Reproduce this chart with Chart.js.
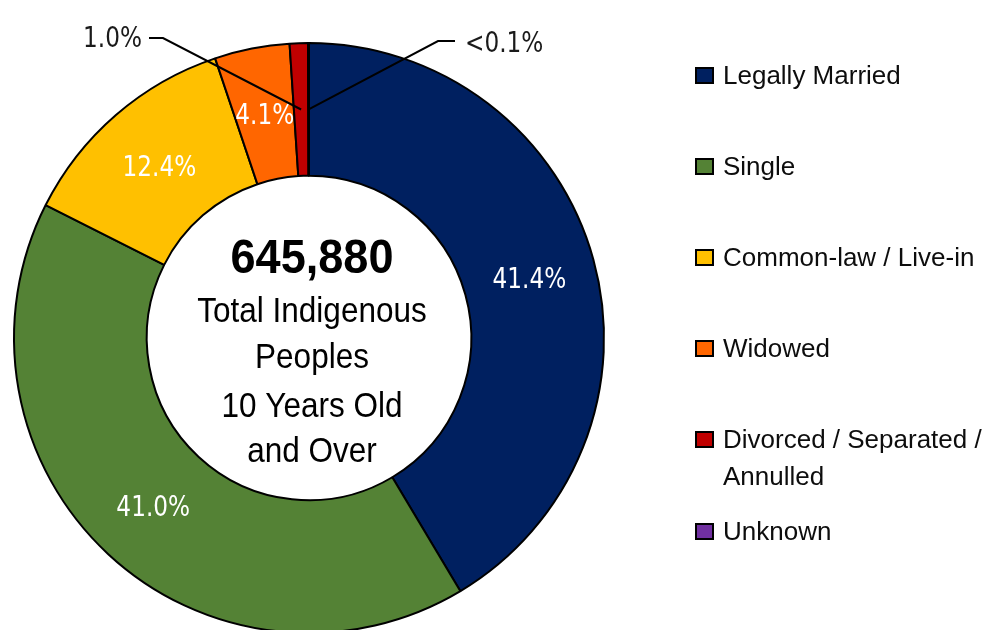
<!DOCTYPE html>
<html>
<head>
<meta charset="utf-8">
<script src="https://cdn.jsdelivr.net/npm/chart.js@4.4.1/dist/chart.umd.min.js"></script>
<style>
html, body { margin: 0; padding: 0; background: #fff; overflow: hidden; }
#wrap { position: relative; width: 998px; height: 630px; overflow: hidden; }
#legend { position: absolute; left: 0; top: 0; font-family: "Liberation Sans", Arial, sans-serif; font-size: 26px; color: #0d0d0d; }
.item { position: absolute; left: 695px; white-space: nowrap; }
.box { position: absolute; left: 0; top: 10px; width: 19px; height: 17px; border: 2px solid #000; box-sizing: border-box; }
.txt { position: absolute; left: 28px; top: 0; line-height: 37px; white-space: pre; }
</style>
</head>
<body>
<div id="wrap">
  <canvas id="myChart" width="998" height="645"></canvas>
  <div id="legend"></div>
</div>
<script>
const categories = ['Legally Married', 'Single', 'Common-law / Live-in', 'Widowed', 'Divorced / Separated / Annulled', 'Unknown'];
const legendText = ['Legally Married', 'Single', 'Common-law / Live-in', 'Widowed', 'Divorced / Separated /\nAnnulled', 'Unknown'];
const shares = [41.4, 41.0, 12.4, 4.1, 1.0, 0.05]; // percent
const colors = ['#002060', '#548235', '#FFC000', '#FF6600', '#C00000', '#7030A0'];
const totalPeople = '645,880';
const centerLines = ['Total Indigenous', 'Peoples', '10 Years Old', 'and Over'];

function pctText(v) {
  return v < 0.1 ? '<0.1%' : v.toFixed(1) + '%';
}

// squeezed text to look like the condensed font of the original
function narrowText(ctx, txt, x, y, font, color, sx, align) {
  ctx.save();
  ctx.translate(x, y);
  ctx.scale(sx, 1);
  ctx.font = font;
  ctx.fillStyle = color;
  ctx.textAlign = align || 'center';
  ctx.textBaseline = 'alphabetic';
  ctx.fillText(txt, 0, 0);
  ctx.restore();
}

const sliceLabels = {
  id: 'sliceLabels',
  afterDatasetsDraw(chart) {
    const ctx = chart.ctx;
    const arcs = chart.getDatasetMeta(0).data;
    const cx = arcs[0].x, cy = arcs[0].y;
    const labelFont = '29px "DejaVu Sans", sans-serif';

    arcs.forEach((arc, i) => {
      if (i > 3) return;
      const p = arc.tooltipPosition();
      narrowText(ctx, pctText(shares[i]), p.x, p.y + 10.5, labelFont, '#fff', 0.8);
    });

    // leader lines for the two thin slices
    ctx.save();
    ctx.strokeStyle = '#000';
    ctx.lineWidth = 2;
    let p = arcs[4].tooltipPosition();
    ctx.beginPath();
    ctx.moveTo(p.x, p.y);
    ctx.lineTo(cx - 146, cy - 300);
    ctx.lineTo(cx - 160, cy - 300);
    ctx.stroke();
    p = arcs[5].tooltipPosition();
    ctx.beginPath();
    ctx.moveTo(p.x, p.y);
    ctx.lineTo(cx + 129, cy - 297);
    ctx.lineTo(cx + 146, cy - 297);
    ctx.stroke();
    ctx.restore();

    narrowText(ctx, pctText(shares[4]), cx - 167, cy - 291, labelFont, '#1a1a1a', 0.8, 'right');
    narrowText(ctx, pctText(shares[5]), cx + 156, cy - 286, labelFont, '#1a1a1a', 0.8, 'left');

    // centre text
    const tx = cx + 3;
    narrowText(ctx, totalPeople, tx, cy - 65, 'bold 49px "Liberation Sans", Arial, sans-serif', '#000', 0.92);
    const offs = [-16, 30, 79, 124];
    centerLines.forEach((t, i) => {
      narrowText(ctx, t, tx, cy + offs[i], '35px "Liberation Sans", Arial, sans-serif', '#000', 0.9);
    });
  }
};

const ctx = document.getElementById('myChart').getContext('2d');
new Chart(ctx, {
  type: 'doughnut',
  data: {
    labels: categories,
    datasets: [{
      data: shares,
      backgroundColor: colors,
      borderColor: '#000',
      borderWidth: 2
    }]
  },
  options: {
    responsive: false,
    animation: false,
    cutout: '55%',
    layout: { padding: { left: 13, top: 42, right: 393, bottom: 11 } },
    plugins: {
      legend: { display: false },
      tooltip: { enabled: false }
    }
  },
  plugins: [sliceLabels]
});

// legend on the right
const legend = document.getElementById('legend');
legendText.forEach((t, i) => {
  const item = document.createElement('div');
  item.className = 'item';
  item.style.top = (75 - 18.5 + i * 91.2) + 'px';
  const box = document.createElement('div');
  box.className = 'box';
  box.style.background = colors[i];
  const txt = document.createElement('div');
  txt.className = 'txt';
  txt.textContent = t;
  item.appendChild(box);
  item.appendChild(txt);
  legend.appendChild(item);
});
</script>
</body>
</html>
